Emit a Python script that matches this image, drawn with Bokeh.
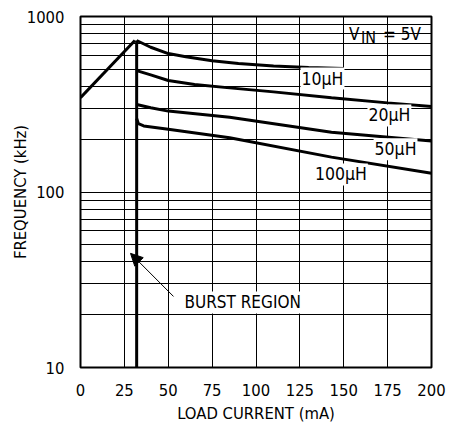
from bokeh.plotting import figure
from bokeh.models import FixedTicker, Label, Arrow, NormalHead, CustomJSTickFormatter
from bokeh.embed import file_html
from bokeh.resources import INLINE

FONT = "DejaVu Sans Condensed"

# data
rise_x = [0, 31]
rise_y = [345, 730]
burst_x = [32, 32]
burst_y = [10, 730]
l10_x = [32, 40, 50, 60, 75, 90, 110, 130, 150]
l10_y = [730, 668, 615, 590, 560, 540, 522, 512, 505]
l20_x = [32, 40, 50, 65, 85, 110, 143, 175, 200]
l20_y = [492, 465, 432, 410, 392, 372, 344, 322, 307]
l50_x = [32, 40, 50, 85, 143, 200]
l50_y = [315, 302, 289, 267, 219, 195]
l100_x = [32, 33, 36, 50, 85, 143, 200]
l100_y = [262, 245, 238, 228, 204, 158, 128]
x_ticks = [0, 25, 50, 75, 100, 125, 150, 175, 200]
y_ticks = [10, 100, 1000]
y_minor = [20, 30, 40, 50, 60, 70, 80, 90, 200, 300, 400, 500, 600, 700, 800, 900]
curve_labels = ["10µH", "20µH", "50µH", "100µH"]
curve_label_x = [125.4, 163.5, 167, 133]
curve_label_y = [443, 273, 175, 126]

p = figure(frame_width=351, frame_height=351, x_range=(0, 200), y_range=(10, 1000),
           y_axis_type="log", output_backend="svg", toolbar_location=None,
           min_border_left=80, min_border_right=31, min_border_top=16,
           min_border_bottom=56)
p.outline_line_color = "black"
p.outline_line_width = 2

p.xaxis.ticker = FixedTicker(ticks=x_ticks)
p.yaxis.ticker = FixedTicker(ticks=y_ticks)
p.yaxis.formatter = CustomJSTickFormatter(code="return String(Math.round(tick));")
p.xgrid.ticker = FixedTicker(ticks=x_ticks)
p.ygrid.ticker = FixedTicker(ticks=y_ticks, minor_ticks=y_minor)
for ax in (p.xaxis[0], p.yaxis[0]):
    ax.axis_line_color = None
    ax.major_tick_line_color = None
    ax.minor_tick_line_color = None
    ax.major_label_text_font = FONT
    ax.major_label_text_font_size = "16.5px"
    ax.major_label_text_color = "black"
    ax.axis_label_text_font = FONT
    ax.axis_label_text_font_size = "16.5px"
    ax.axis_label_text_font_style = "normal"
    ax.axis_label_text_color = "black"
    ax.major_label_standoff = 10
p.xaxis.axis_label = "LOAD CURRENT (mA)"
p.yaxis.axis_label = "FREQUENCY (kHz)"
p.xaxis.axis_label_standoff = 5
p.yaxis.axis_label_standoff = -6

p.xgrid.grid_line_color = "black"
p.xgrid.grid_line_width = 1
p.xgrid.grid_line_alpha = 1
p.ygrid.grid_line_color = "black"
p.ygrid.grid_line_alpha = 1
p.ygrid.minor_grid_line_color = "black"
p.ygrid.minor_grid_line_alpha = 1

lw = 3
p.line(rise_x, rise_y, line_color="black", line_width=lw)
p.line(burst_x, burst_y, line_color="black", line_width=lw)
for xs, ys in [(l10_x, l10_y), (l20_x, l20_y), (l50_x, l50_y), (l100_x, l100_y)]:
    p.line(xs, ys, line_color="black", line_width=lw)

for t, x, y in zip(curve_labels, curve_label_x, curve_label_y):
    p.add_layout(Label(x=x, y=y, text=t, text_font=FONT, text_font_size="17.5px",
                       text_baseline="middle", background_fill_color="white",
                       text_color="black", padding=1))

# V_IN = 5V
vx, vy = 153, 800
p.add_layout(Label(x=vx, y=vy, text="VIN  = 5V", text_font=FONT, text_font_size="17px",
                   text_baseline="middle", background_fill_color="white", text_alpha=0,
                   padding=2))
p.add_layout(Label(x=vx, y=vy, text="V", text_font=FONT, text_font_size="17px",
                   text_baseline="middle", text_color="black"))
p.add_layout(Label(x=vx, y=vy, x_offset=12, y_offset=-4, text="IN", text_font=FONT,
                   text_font_size="16px", text_baseline="middle", text_color="black"))
p.add_layout(Label(x=vx, y=vy, x_offset=34, text="= 5V", text_font=FONT,
                   text_font_size="17px", text_baseline="middle", text_color="black"))

p.add_layout(Label(x=58.7, y=23.5, text="BURST REGION", text_font=FONT, text_font_size="17px",
                   text_baseline="middle", background_fill_color="white", text_color="black",
                   padding=1))
p.add_layout(Arrow(x_start=53, y_start=25.4, x_end=28.5, y_end=44.7, line_width=1,
                   end=NormalHead(size=12, fill_color="black", line_color="black")))

open("out.html", "w").write(file_html(p, INLINE))
